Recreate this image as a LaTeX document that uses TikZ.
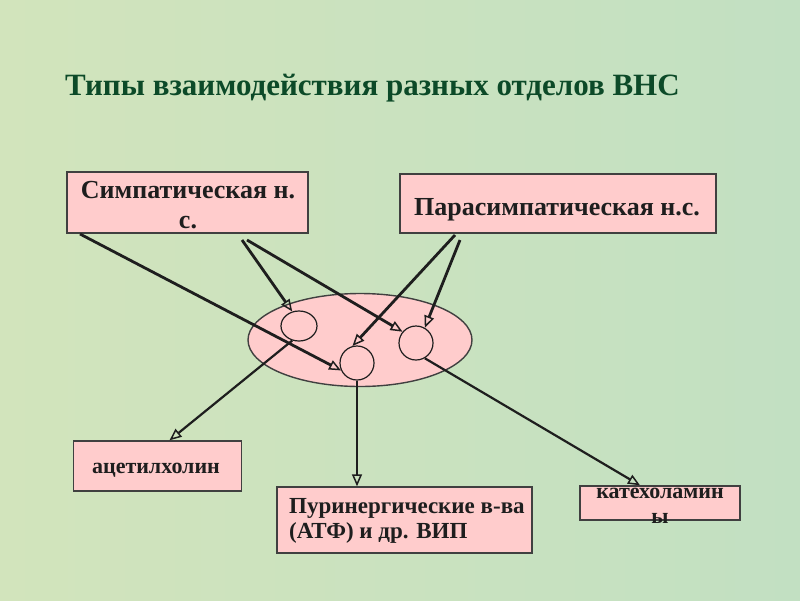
\documentclass[tikz,border=0pt]{standalone}
\usepackage{fontspec}
\setmainfont{Liberation Serif}
\usetikzlibrary{arrows.meta,shapes.geometric}
\definecolor{bg}{RGB}{194,224,194}
\definecolor{bg2}{RGB}{210,228,188}
\definecolor{pinkbox}{RGB}{255,204,204}
\definecolor{edge}{RGB}{64,64,64}
\definecolor{titlegreen}{RGB}{12,74,40}
\definecolor{ink}{RGB}{30,30,30}
\tikzset{
  box/.style={draw=edge, line width=1.4pt, fill=pinkbox, inner sep=0pt},
  lbl/.style={font=\bfseries, text=ink, inner sep=0pt},
  cell/.style={draw=ink, line width=1.2pt, ellipse, fill=pinkbox, inner sep=0pt},
  conn/.style={draw=ink, line width=2.8pt, -{Triangle[open, length=12pt, width=10pt, line width=1.5pt]}},
  thin/.style={draw=ink, line width=2.2pt, -{Triangle[open, length=12pt, width=10pt, line width=1.5pt]}}
}
\begin{document}
\begin{tikzpicture}[x=1pt,y=-1pt]
\useasboundingbox (0,0) rectangle (800,600);
\shade[left color=bg2, right color=bg] (0,0) rectangle (800,600);
\node[font=\bfseries\fontsize{31}{34}\selectfont, text=titlegreen, anchor=base west, inner sep=0pt] (title) at (65,95) {Типы взаимодействия разных отделов ВНС};

\node[box, minimum width=241pt, minimum height=61pt] (sym) at (187.5,202.5) {};
\node[lbl, anchor=base, font=\bfseries\fontsize{26}{30}\selectfont] (symtext) at (188,198) {Симпатическая н.};
\node[lbl, anchor=base, font=\bfseries\fontsize{26}{30}\selectfont] (symtext2) at (188,228) {с.};
\node[box, minimum width=316pt, minimum height=59pt] (para) at (558,203.5) {};
\node[lbl, anchor=base, font=\bfseries\fontsize{26}{30}\selectfont] (paratext) at (557,215) {Парасимпатическая н.с.};

\node[draw=edge, line width=1.4pt, fill=pinkbox, ellipse, minimum width=224pt, minimum height=93pt, inner sep=0pt] (big) at (360,340) {};
\node[cell, minimum width=36pt, minimum height=30pt] (c1) at (299,326) {};
\node[cell, minimum width=34pt, minimum height=34pt] (c2) at (357,363) {};
\node[cell, minimum width=34pt, minimum height=34pt] (c3) at (416,343) {};

\node[box, minimum width=168pt, minimum height=50pt] (ach) at (157.5,466) {};
\node[lbl, anchor=base, font=\bfseries\fontsize{22}{26}\selectfont] (achtext) at (156,473) {ацетилхолин};
\node[box, minimum width=255pt, minimum height=66pt] (pur) at (404.5,520) {};
\node[lbl, anchor=base west, font=\bfseries\fontsize{23}{26}\selectfont] (purtext) at (289,513) {Пуринергические в-ва};
\node[lbl, anchor=base west, font=\bfseries\fontsize{23}{26}\selectfont] (purtext2) at (289,538) {(АТФ) и др. ВИП};
\node[box, minimum width=160pt, minimum height=34pt] (kat) at (660,503) {};
\node[lbl, anchor=base, font=\bfseries\fontsize{22}{26}\selectfont] (kattext) at (660,498) {катехоламин};
\node[lbl, anchor=base, font=\bfseries\fontsize{22}{26}\selectfont] (kattext2) at (660,523) {ы};

\coordinate (s1) at (80,234);
\coordinate (s2) at (242,240);
\coordinate (s3) at (247,240);
\coordinate (p1) at (455,235);
\coordinate (p2) at (460,240);

\draw[conn] (s1) -- (c2.205);
\draw[conn] (s2) -- (c1.115);
\draw[conn] (s3) -- (c3.140);
\draw[conn] (p1) -- (c2.105);
\draw[conn] (p2) -- (c3.60);

\draw[thin] (c1.245) -- ([xshift=12pt]ach.north);
\draw[thin] (c2.south) -- (c2.south |- pur.north);
\draw[thin] (c3.300) -- ([xshift=-20pt]kat.north);
\end{tikzpicture}
\end{document}
